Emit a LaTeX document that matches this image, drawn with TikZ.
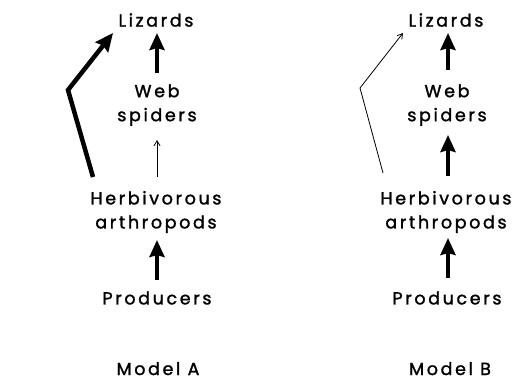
\documentclass[tikz,border=0pt]{standalone}
\usepackage{fontspec}
\setmainfont[LetterSpace=15,FakeBold=1.5]{Poppins}
\usetikzlibrary{arrows.meta}
\begin{document}
\begin{tikzpicture}[x=1pt,y=-1pt,
  lbl/.style={font=\fontsize{17.5}{24}\selectfont, inner sep=0pt, align=center},
  mlbl/.style={font=\fontsize{17.5}{24}\selectfont, inner sep=0pt, anchor=base},
  thick arrow/.style={line width=4.5pt, -{Stealth[length=17pt,width=15pt,inset=2pt]}},
  thin arrow/.style={line width=0.8pt, -{Straight Barb[length=5pt,width=6pt]}}]
\useasboundingbox (0,0) rectangle (519,380);
% Model A
\node[lbl] (liza) at (156,20) {Lizards};
\node[lbl] (weba) at (157,105) {Web\\spiders};
\node[lbl] (herba) at (156,212) {Herbivorous\\arthropods};
\node[lbl] (proa) at (157,298) {Producers};
\node[mlbl] (ma) at (158,375) {Model A};
\coordinate (benda) at (68,90);
\draw[thick arrow] (157,73) -- (157,33);
\draw[thin arrow] (157,177) -- (157,140);
\draw[thick arrow] (157,280) -- (157,240);
\draw[line width=4.5pt, line join=miter, -{Stealth[length=18pt,width=16pt,inset=2pt]}] (93,177) -- (benda) -- (113,33);
% Model B
\node[lbl] (lizb) at (446,20) {Lizards};
\node[lbl] (webb) at (447,105) {Web\\spiders};
\node[lbl] (herbb) at (446,212) {Herbivorous\\arthropods};
\node[lbl] (prob) at (447,298) {Producers};
\node[mlbl] (mb) at (450,375) {Model B};
\coordinate (bendb) at (360,88);
\draw[thick arrow] (448,70) -- (448,33);
\draw[thick arrow] (448,176) -- (448,135);
\draw[thick arrow] (448,278) -- (448,238);
\draw[thin arrow] (383,173) -- (bendb) -- (403,33);
\end{tikzpicture}
\end{document}
